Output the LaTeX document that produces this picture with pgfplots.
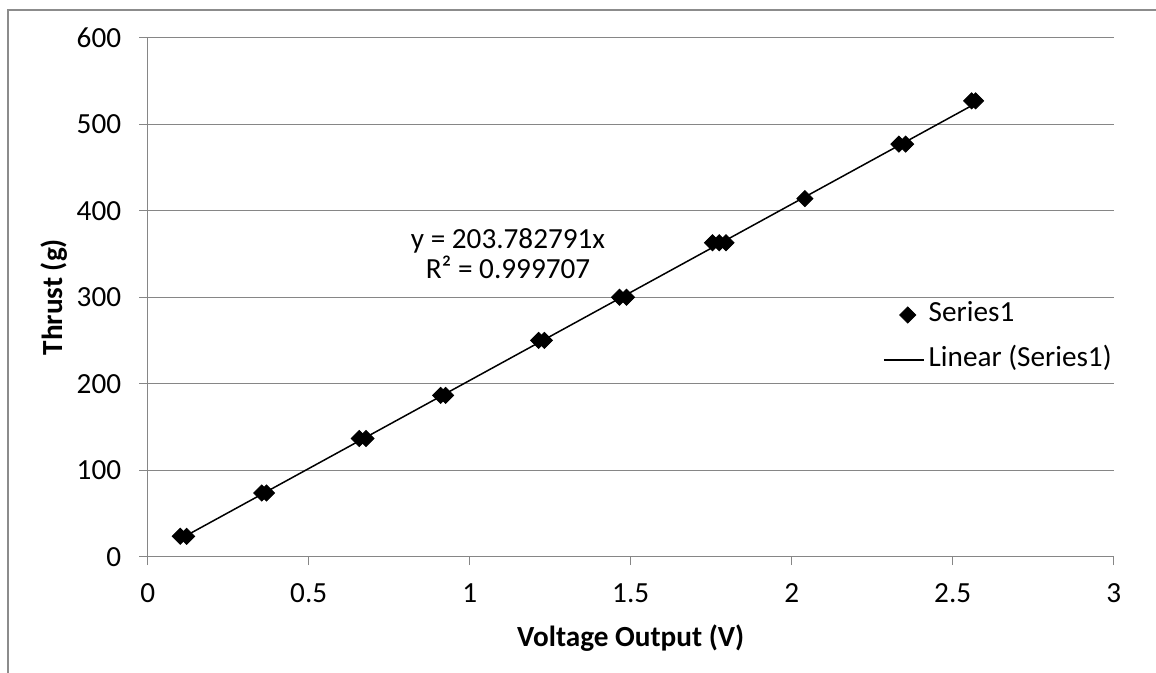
\documentclass[border=0pt]{standalone}
\usepackage{fontspec}
\setmainfont{Carlito}
\usepackage{pgfplots}
\pgfplotsset{compat=1.18}
\definecolor{gridgray}{RGB}{134,134,134}
\definecolor{framegray}{RGB}{140,140,140}
\newcommand{\cfont}{\fontsize{14.6}{15}\selectfont}
\pgfplotsset{
  mymarkleg/.style={legend image code/.code={\path (0pt,0pt) (20pt,0pt);
    \draw[##1] plot coordinates {(11.85pt,0pt)};}},
  mylineleg/.style={legend image code/.code={\draw[##1] (0pt,0pt) -- (20pt,0pt);}},
}
\begin{document}
\begin{tikzpicture}
\useasboundingbox (0pt,0pt) rectangle (578pt,-336.5pt);
\draw[framegray, line width=0.7pt] (4pt,-336.5pt) -- (4pt,-5pt) -- (578pt,-5pt);
\begin{axis}[
  at={(73.85pt,-278.35pt)}, anchor=south west,
  scale only axis, width=483pt, height=259.5pt,
  xmin=0, xmax=3, ymin=0, ymax=600,
  xtick={0,0.5,1,1.5,2,2.5,3},
  ytick={0,100,200,300,400,500,600},
  axis x line*=bottom, axis y line*=left,
  axis line style={gridgray, line width=0.7pt},
  ymajorgrids=true,
  grid style={gridgray, line width=0.7pt},
  tick align=outside, major tick length=4.2pt,
  tick style={gridgray, line width=0.7pt},
  /pgf/number format/assume math mode=true,
  ticklabel style={font=\cfont, inner sep=0pt},
  xticklabel style={anchor=north},
  yticklabel style={anchor=east},
  xticklabel shift=9pt,
  yticklabel shift=8.9pt,
  xlabel={\textbf{Voltage Output (V)}},
  ylabel={\textbf{Thrust (g)}},
  label style={font=\cfont},
  xlabel style={at={(axis description cs:0.5,-0.1734)}, anchor=base, inner sep=0pt},
  ylabel style={at={(axis description cs:-0.0886,0.5)}, anchor=base, inner sep=0pt},
  clip=false,
  legend style={draw=none, fill=none, inner sep=0pt, anchor=west,
    at={(rel axis cs:0.761,0.4224)}, font=\cfont,
    nodes={inner sep=0pt, text height=10pt, text depth=3pt},
    column sep=2pt, row sep=9.5pt},
  legend cell align=left,
]
\addplot[only marks, mark=square*, mark size=2.85pt,
  mark options={rotate=45, fill=black, draw=black}, mymarkleg]
coordinates {
(0.101,23.6) (0.121,23.6)
(0.354,73.6) (0.369,73.6)
(0.657,136.6) (0.678,136.6)
(0.910,186.5) (0.925,186.5)
(1.214,250) (1.232,250)
(1.465,300) (1.487,300)
(1.754,363) (1.775,363) (1.796,363)
(2.041,414)
(2.333,477) (2.354,477)
(2.559,527) (2.571,527)
};
\addlegendentry{Series1}
\addplot[black, line width=0.75pt, no marks, mylineleg]
coordinates {(0.101,20.58) (2.571,523.92)};
\addlegendentry{Linear (Series1)}
\node[font=\fontsize{14.6}{15}\selectfont, align=center, inner sep=0pt] at (axis cs:1.119,350)
  {y = 203.782791x\\R² = 0.999707};
\end{axis}
\end{tikzpicture}
\end{document}
